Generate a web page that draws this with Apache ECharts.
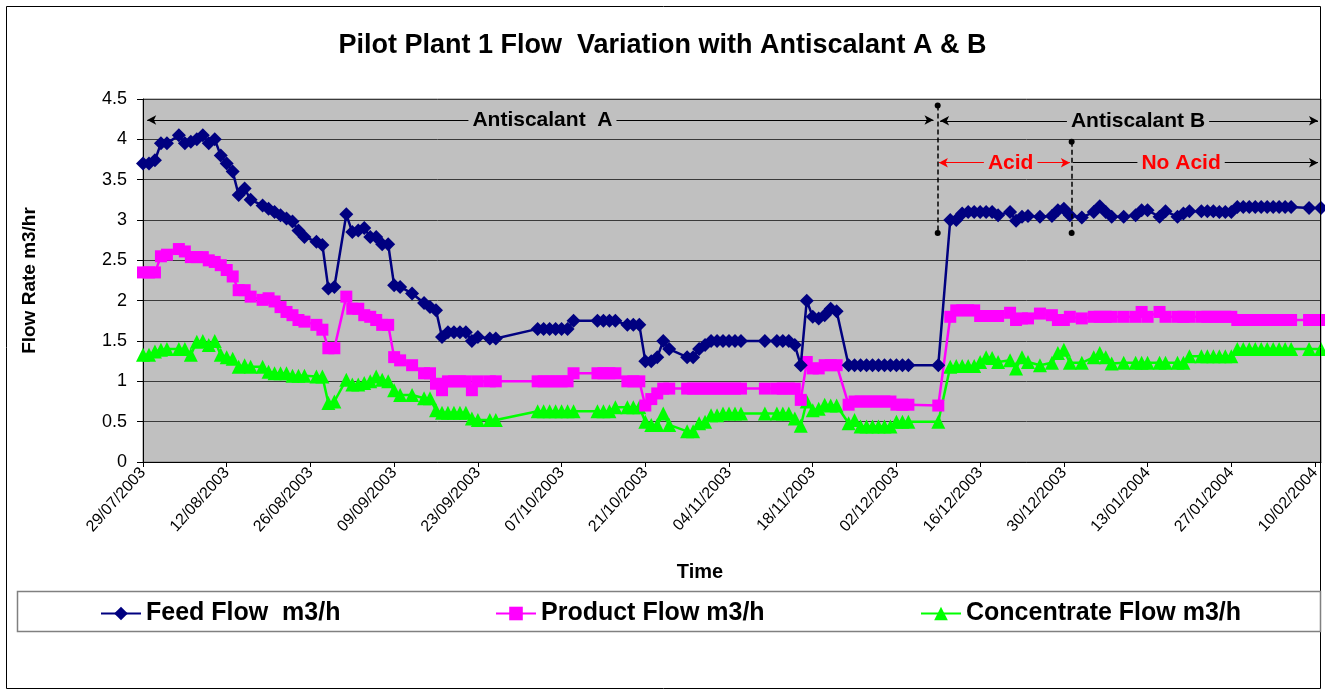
<!DOCTYPE html>
<html>
<head>
<meta charset="utf-8">
<title>Pilot Plant 1 Flow Variation</title>
<script src="https://cdn.jsdelivr.net/npm/echarts@6/dist/echarts.min.js"></script>
<style>
  html, body {margin: 0; padding: 0; background: #fff;}
  #main {width: 1325px; height: 690px;}
</style>
</head>
<body>
<div id="main"></div>
<script>
// sample dates (one reading per date for all three flows)
const dates = [
  '2003-07-29', '2003-07-30', '2003-07-31', '2003-08-01', '2003-08-02', '2003-08-04', '2003-08-05', '2003-08-06',
  '2003-08-07', '2003-08-08', '2003-08-09', '2003-08-10', '2003-08-11', '2003-08-12', '2003-08-13', '2003-08-14',
  '2003-08-15', '2003-08-16', '2003-08-18', '2003-08-19', '2003-08-20', '2003-08-21', '2003-08-22', '2003-08-23',
  '2003-08-24', '2003-08-25', '2003-08-27', '2003-08-28', '2003-08-29', '2003-08-30', '2003-09-01', '2003-09-02',
  '2003-09-03', '2003-09-04', '2003-09-05', '2003-09-06', '2003-09-07', '2003-09-08', '2003-09-09', '2003-09-10',
  '2003-09-12', '2003-09-14', '2003-09-15', '2003-09-16', '2003-09-17', '2003-09-18', '2003-09-19', '2003-09-20',
  '2003-09-21', '2003-09-22', '2003-09-23', '2003-09-25', '2003-09-26', '2003-10-03', '2003-10-04', '2003-10-05',
  '2003-10-06', '2003-10-07', '2003-10-08', '2003-10-09', '2003-10-13', '2003-10-14', '2003-10-15', '2003-10-16',
  '2003-10-18', '2003-10-19', '2003-10-20', '2003-10-21', '2003-10-22', '2003-10-23', '2003-10-24', '2003-10-25',
  '2003-10-28', '2003-10-29', '2003-10-30', '2003-10-31', '2003-11-01', '2003-11-02', '2003-11-03', '2003-11-04',
  '2003-11-05', '2003-11-06', '2003-11-10', '2003-11-12', '2003-11-13', '2003-11-14', '2003-11-15', '2003-11-16',
  '2003-11-17', '2003-11-18', '2003-11-19', '2003-11-20', '2003-11-21', '2003-11-22', '2003-11-24', '2003-11-25',
  '2003-11-26', '2003-11-27', '2003-11-28', '2003-11-29', '2003-11-30', '2003-12-01', '2003-12-02', '2003-12-03',
  '2003-12-04', '2003-12-09', '2003-12-11', '2003-12-12', '2003-12-13', '2003-12-14', '2003-12-15', '2003-12-16',
  '2003-12-17', '2003-12-18', '2003-12-19', '2003-12-21', '2003-12-22', '2003-12-23', '2003-12-24', '2003-12-26',
  '2003-12-28', '2003-12-29', '2003-12-30', '2003-12-31', '2004-01-02', '2004-01-04', '2004-01-05', '2004-01-06',
  '2004-01-07', '2004-01-09', '2004-01-11', '2004-01-12', '2004-01-13', '2004-01-15', '2004-01-16', '2004-01-18',
  '2004-01-19', '2004-01-20', '2004-01-22', '2004-01-23', '2004-01-24', '2004-01-25', '2004-01-26', '2004-01-27',
  '2004-01-28', '2004-01-29', '2004-01-30', '2004-01-31', '2004-02-01', '2004-02-02', '2004-02-03', '2004-02-04',
  '2004-02-05', '2004-02-06', '2004-02-09', '2004-02-11'
];

const feedFlow = [
  3.70, 3.70, 3.74, 3.95, 3.95, 4.05, 3.95, 3.97,
  4.00, 4.05, 3.95, 4.00, 3.80, 3.70, 3.60, 3.31,
  3.39, 3.25, 3.18, 3.14, 3.10, 3.06, 3.02, 2.98,
  2.87, 2.79, 2.73, 2.69, 2.15, 2.17, 3.07, 2.85,
  2.87, 2.90, 2.79, 2.79, 2.70, 2.70, 2.19, 2.17,
  2.09, 1.97, 1.92, 1.88, 1.55, 1.61, 1.61, 1.61,
  1.61, 1.50, 1.55, 1.53, 1.53, 1.65, 1.65, 1.65,
  1.65, 1.65, 1.65, 1.75, 1.75, 1.75, 1.75, 1.75,
  1.70, 1.70, 1.70, 1.25, 1.25, 1.30, 1.50, 1.40,
  1.30, 1.30, 1.40, 1.45, 1.50, 1.50, 1.50, 1.50,
  1.50, 1.50, 1.50, 1.50, 1.50, 1.50, 1.45, 1.20,
  2.00, 1.80, 1.78, 1.82, 1.90, 1.87, 1.20, 1.20,
  1.20, 1.20, 1.20, 1.20, 1.20, 1.20, 1.20, 1.20,
  1.20, 1.20, 3.00, 3.00, 3.08, 3.10, 3.10, 3.10,
  3.10, 3.10, 3.06, 3.10, 2.99, 3.04, 3.05, 3.04,
  3.05, 3.12, 3.14, 3.06, 3.03, 3.10, 3.17, 3.10,
  3.04, 3.04, 3.06, 3.12, 3.12, 3.04, 3.11, 3.04,
  3.08, 3.11, 3.11, 3.11, 3.11, 3.10, 3.10, 3.10,
  3.16, 3.16, 3.16, 3.16, 3.16, 3.16, 3.16, 3.16,
  3.16, 3.16, 3.15, 3.15
];

const productFlow = [
  2.35, 2.35, 2.35, 2.55, 2.57, 2.64, 2.61, 2.54,
  2.54, 2.54, 2.50, 2.48, 2.44, 2.38, 2.30, 2.13,
  2.13, 2.05, 2.01, 2.03, 1.99, 1.92, 1.86, 1.82,
  1.76, 1.74, 1.70, 1.64, 1.41, 1.41, 2.05, 1.90,
  1.90, 1.82, 1.80, 1.76, 1.70, 1.70, 1.30, 1.26,
  1.20, 1.10, 1.10, 0.97, 0.89, 1.00, 1.00, 1.00,
  1.00, 0.89, 1.00, 1.00, 1.00, 1.00, 1.00, 1.00,
  1.00, 1.00, 1.00, 1.10, 1.10, 1.10, 1.10, 1.10,
  1.00, 1.00, 1.00, 0.70, 0.78, 0.85, 0.91, 0.91,
  0.91, 0.91, 0.91, 0.91, 0.91, 0.91, 0.91, 0.91,
  0.91, 0.91, 0.91, 0.91, 0.91, 0.91, 0.91, 0.77,
  1.24, 1.16, 1.16, 1.20, 1.20, 1.20, 0.71, 0.75,
  0.75, 0.75, 0.75, 0.75, 0.75, 0.75, 0.71, 0.71,
  0.71, 0.70, 1.80, 1.88, 1.88, 1.88, 1.88, 1.81,
  1.81, 1.81, 1.81, 1.85, 1.76, 1.78, 1.78, 1.84,
  1.82, 1.76, 1.76, 1.80, 1.78, 1.80, 1.80, 1.80,
  1.80, 1.80, 1.80, 1.86, 1.80, 1.86, 1.80, 1.80,
  1.80, 1.80, 1.80, 1.80, 1.80, 1.80, 1.80, 1.80,
  1.76, 1.76, 1.76, 1.76, 1.76, 1.76, 1.76, 1.76,
  1.76, 1.76, 1.76, 1.76
];

const concentrateFlow = [
  1.33, 1.33, 1.37, 1.39, 1.40, 1.40, 1.40, 1.33,
  1.49, 1.50, 1.45, 1.50, 1.33, 1.30, 1.28, 1.18,
  1.20, 1.18, 1.18, 1.12, 1.10, 1.10, 1.10, 1.07,
  1.07, 1.07, 1.06, 1.06, 0.73, 0.75, 1.02, 0.96,
  0.96, 0.98, 1.00, 1.06, 1.02, 1.00, 0.89, 0.83,
  0.83, 0.79, 0.79, 0.64, 0.61, 0.61, 0.61, 0.61,
  0.61, 0.54, 0.52, 0.52, 0.52, 0.63, 0.63, 0.63,
  0.63, 0.63, 0.63, 0.63, 0.63, 0.63, 0.63, 0.68,
  0.68, 0.68, 0.68, 0.50, 0.46, 0.46, 0.60, 0.46,
  0.38, 0.38, 0.48, 0.50, 0.58, 0.58, 0.60, 0.60,
  0.60, 0.60, 0.60, 0.60, 0.60, 0.60, 0.54, 0.45,
  0.75, 0.64, 0.66, 0.71, 0.70, 0.70, 0.48, 0.52,
  0.44, 0.44, 0.44, 0.44, 0.44, 0.44, 0.50, 0.50,
  0.50, 0.50, 1.18, 1.19, 1.19, 1.19, 1.19, 1.24,
  1.30, 1.29, 1.24, 1.26, 1.16, 1.30, 1.24, 1.20,
  1.23, 1.35, 1.39, 1.23, 1.23, 1.30, 1.35, 1.30,
  1.22, 1.23, 1.23, 1.23, 1.23, 1.23, 1.23, 1.23,
  1.23, 1.31, 1.31, 1.31, 1.31, 1.31, 1.31, 1.31,
  1.40, 1.40, 1.40, 1.40, 1.40, 1.40, 1.40, 1.40,
  1.40, 1.40, 1.40, 1.40
];

const seriesNames = ['Feed Flow  m3/h', 'Product Flow m3/h', 'Concentrate Flow m3/h'];
const seriesColors = ['#000080', '#FF00FF', '#00FF00'];

const FONT = '"Liberation Sans", Arial, sans-serif';
const T0 = Date.UTC(2003, 6, 29);
const DAY = 86400000;

function toDay(s) {
    return Math.round((Date.parse(s) - T0) / DAY);
}

function pad(n) {
    return n < 10 ? '0' + n : '' + n;
}

function fmtDay(v) {
    if (v % 14 !== 0) return '';
    let d = new Date(T0 + v * DAY);
    return pad(d.getUTCDate()) + '/' + pad(d.getUTCMonth() + 1) + '/' + d.getUTCFullYear();
}

const days = dates.map(toDay);
const pairs = vals => days.map((d, i) => [d, vals[i]]);

// annotation arrows, in axis units (day, flow)
const arrowEnd = {symbol: 'arrow', symbolSize: [7, 9]};
const dotEnd = {symbol: 'circle', symbolSize: 6};
const annotLines = [
    [Object.assign({coord: [0.7, 4.24], lineStyle: {color: '#000', width: 1.2, type: 'solid'}}, arrowEnd),
        Object.assign({coord: [132.2, 4.24]}, arrowEnd)],
    [Object.assign({coord: [133.3, 4.23], lineStyle: {color: '#000', width: 1.2, type: 'solid'}}, arrowEnd),
        Object.assign({coord: [196.5, 4.23]}, arrowEnd)],
    [Object.assign({coord: [133.1, 3.71], lineStyle: {color: '#FF0000', width: 1.2, type: 'solid'}}, arrowEnd),
        Object.assign({coord: [155.0, 3.71]}, arrowEnd)],
    [{coord: [155.5, 3.71], symbol: 'none', lineStyle: {color: '#000', width: 1.2, type: 'solid'}},
        Object.assign({coord: [196.5, 3.71]}, arrowEnd)],
    [Object.assign({coord: [132.9, 4.42], lineStyle: {color: '#000', width: 1.5, type: [5, 3]}}, dotEnd),
        Object.assign({coord: [132.9, 2.84]}, dotEnd)],
    [Object.assign({coord: [155.3, 3.97], lineStyle: {color: '#000', width: 1.5, type: [5, 3]}}, dotEnd),
        Object.assign({coord: [155.3, 2.84]}, dotEnd)],
];

function annotText(x, y, text, color) {
    return {
        coord: [x, y], symbol: 'rect', symbolSize: 1, itemStyle: {color: 'rgba(0,0,0,0)'},
        label: {
            show: true, position: 'inside', formatter: text, color: color,
            fontFamily: FONT, fontWeight: 'bold', fontSize: 21,
            backgroundColor: '#C0C0C0', padding: [1, 4]
        }
    };
}

const annotTexts = [
    annotText(66.8, 4.24, 'Antiscalant  A', '#000'),
    annotText(166.4, 4.23, 'Antiscalant B', '#000'),
    annotText(145.1, 3.71, 'Acid', '#FF0000'),
    annotText(173.6, 3.71, 'No Acid', '#FF0000'),
];

const symbols = ['diamond', 'rect', 'triangle'];
const symbolSizes = [14, 12, 14];
const values = [feedFlow, productFlow, concentrateFlow];
const legendLeft = [95, 490, 915];

const series = seriesNames.map((name, i) => {
    let s = {
        name: name, type: 'line', data: pairs(values[i]),
        symbol: symbols[i], symbolSize: symbolSizes[i], showSymbol: true,
        lineStyle: {color: seriesColors[i], width: 2.5},
        itemStyle: {color: seriesColors[i]},
        emphasis: {disabled: true}, z: 3 - i
    };
    if (i === 0) {
        s.markLine = {silent: true, z: 5, label: {show: false}, symbol: ['none', 'none'], data: annotLines};
        s.markPoint = {silent: true, z: 6, data: annotTexts};
    }
    return s;
});

const chart = echarts.init(document.getElementById('main'), null, {renderer: 'canvas'});

chart.setOption({
    animation: false,
    backgroundColor: '#fff',
    title: {
        text: 'Pilot Plant 1 Flow  Variation with Antiscalant A & B',
        left: 'center', top: 27,
        textStyle: {fontFamily: FONT, fontWeight: 'bold', fontSize: 27, color: '#000'}
    },
    legend: seriesNames.map((name, i) => ({
        data: [name], left: legendLeft[i], top: 596, selectedMode: false,
        itemWidth: 40, itemHeight: 17,
        textStyle: {fontFamily: FONT, fontWeight: 'bold', fontSize: 25, color: '#000'}
    })),
    grid: {
        left: 143, right: 4, top: 99, bottom: 228,
        show: true, backgroundColor: '#C0C0C0', borderColor: '#808080', borderWidth: 1
    },
    xAxis: {
        type: 'value', min: 0, max: 197, interval: 14,
        name: 'Time', nameLocation: 'middle', nameGap: 100,
        nameTextStyle: {fontFamily: FONT, fontWeight: 'bold', fontSize: 20, color: '#000', padding: [0, 64, 0, 0]},
        axisLine: {show: true, lineStyle: {color: '#000', width: 1}},
        axisTick: {show: true, length: 5, lineStyle: {color: '#000'}},
        axisLabel: {
            rotate: 48, margin: 8, formatter: fmtDay, showMaxLabel: false,
            fontFamily: FONT, fontSize: 16, color: '#000'
        },
        splitLine: {show: false}
    },
    yAxis: {
        type: 'value', min: 0, max: 4.5, interval: 0.5,
        name: 'Flow Rate m3/hr', nameLocation: 'middle', nameRotate: 90, nameGap: 104,
        nameTextStyle: {fontFamily: FONT, fontWeight: 'bold', fontSize: 19, color: '#000'},
        axisLine: {show: true, lineStyle: {color: '#000', width: 1}},
        axisTick: {show: true, length: 6, lineStyle: {color: '#000'}},
        axisLabel: {margin: 16, fontFamily: FONT, fontSize: 18, color: '#000'},
        splitLine: {show: true, lineStyle: {color: '#3a3a3a', width: 1}}
    },
    graphic: [
        {
            type: 'rect', silent: true, z: 100,
            shape: {x: 6.5, y: 6.5, width: 1314, height: 682},
            style: {fill: 'none', stroke: '#000', lineWidth: 1}
        },
        {
            type: 'rect', silent: true, z: 100,
            shape: {x: 17.5, y: 591.5, width: 1303, height: 40},
            style: {fill: 'none', stroke: '#808080', lineWidth: 1.5}
        }
    ],
    series: series
});
</script>
</body>
</html>
